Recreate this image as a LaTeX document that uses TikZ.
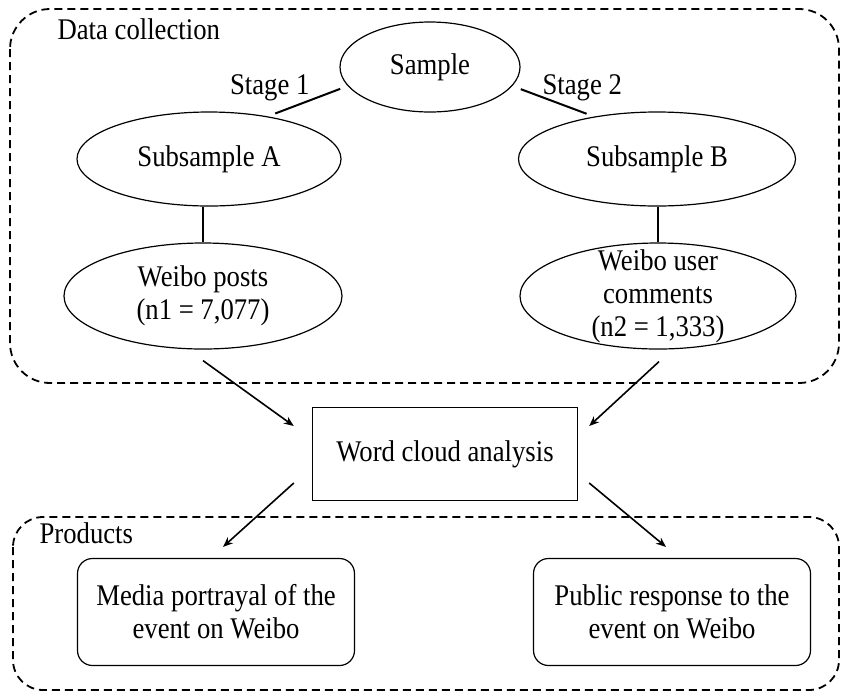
\documentclass[tikz,border=0pt]{standalone}
\usepackage{fontspec}
\setmainfont{Liberation Serif}[FakeStretch=0.89]
\usetikzlibrary{shapes.geometric,calc,arrows.meta}
\begin{document}
\begin{tikzpicture}[x=0.5pt,y=-0.5pt,font=\fontsize{15}{16.5}\selectfont,line width=0.6pt]
\tikzset{E/.style={ellipse,draw,inner sep=0pt},
R/.style={rectangle,draw,inner sep=0pt,minimum width=132.5pt,minimum height=46.5pt,line width=0.7pt},
P/.style={rectangle,draw,rounded corners=7.5pt,inner sep=0pt,minimum width=138.5pt,minimum height=53.5pt,align=center},
T/.style={inner sep=0pt},
arr/.style={-{Stealth[length=5pt,width=4pt]},line width=0.8pt},
every label/.style={align=center}
}
\useasboundingbox (0,0) rectangle (841,692);

% Data collection
\node(sample)[E,minimum width=90pt,minimum height=45pt,label=center:{Sample}] at (430,67) {};
\node(A)[E,minimum width=132pt,minimum height=47pt,label=center:{Subsample A}] at (209,159) {};
\node(B)[E,minimum width=138.5pt,minimum height=47pt,label=center:{Subsample B}] at (657,159) {};
\node(posts)[E,minimum width=139pt,minimum height=53pt,label=center:{Weibo posts\\(n1 = 7,077)}] at (203,296) {};
\node(comments)[E,minimum width=138pt,minimum height=53pt,label=center:{Weibo user\\comments\\(n2 = 1,333)}] at (658,296) {};

\node(stageA)[T,anchor=base east] at (310,94) {Stage 1};
\node(stageB)[T,anchor=base west] at (542,94) {Stage 2};
\draw[line width=1pt,shorten <=4pt,shorten >=4pt] (sample.193) -- (A.36);
\draw[line width=1pt,shorten <=4.5pt,shorten >=4pt] (sample.-13) -- (B.146);
\draw[line width=0.9pt] (posts.north) -- (posts.north |- A.south);
\draw[line width=0.9pt] (comments.north) -- (comments.north |- B.south);

% analysis
\node(cloud)[R] at (445,454) {Word cloud analysis};

% Products
\node(media)[P] at (216,612) {Media portrayal of the\\event on Weibo};
\node(public)[P] at (672,612) {Public response to the\\event on Weibo};

% arrows
\draw[arr] ($(posts.south)+(0,11)$) -- ($(cloud.west)+(-18,-28)$);
\draw[arr] ($(comments.south)+(1,12)$) -- ($(cloud.east)+(11,-28)$);
\draw[arr] ($(cloud.west)+(-18,29)$) -- ($(media.north)+(7,-11)$);
\draw[arr] ($(cloud.east)+(11,29)$) -- ($(public.north)+(-6,-11)$);

% frames
\draw[dashed,dash pattern=on 4pt off 2.5pt,line width=0.9pt,rounded corners=20] (10,9) rectangle (839,383);
\draw[dashed,dash pattern=on 4pt off 2.5pt,line width=0.9pt,rounded corners=15] (13,517) rectangle (839,690);
\node(data)[T,anchor=base west] at (57,39) {Data collection};
\node(prod)[T,anchor=base west] at (39,543) {Products};

\end{tikzpicture}
\end{document}
